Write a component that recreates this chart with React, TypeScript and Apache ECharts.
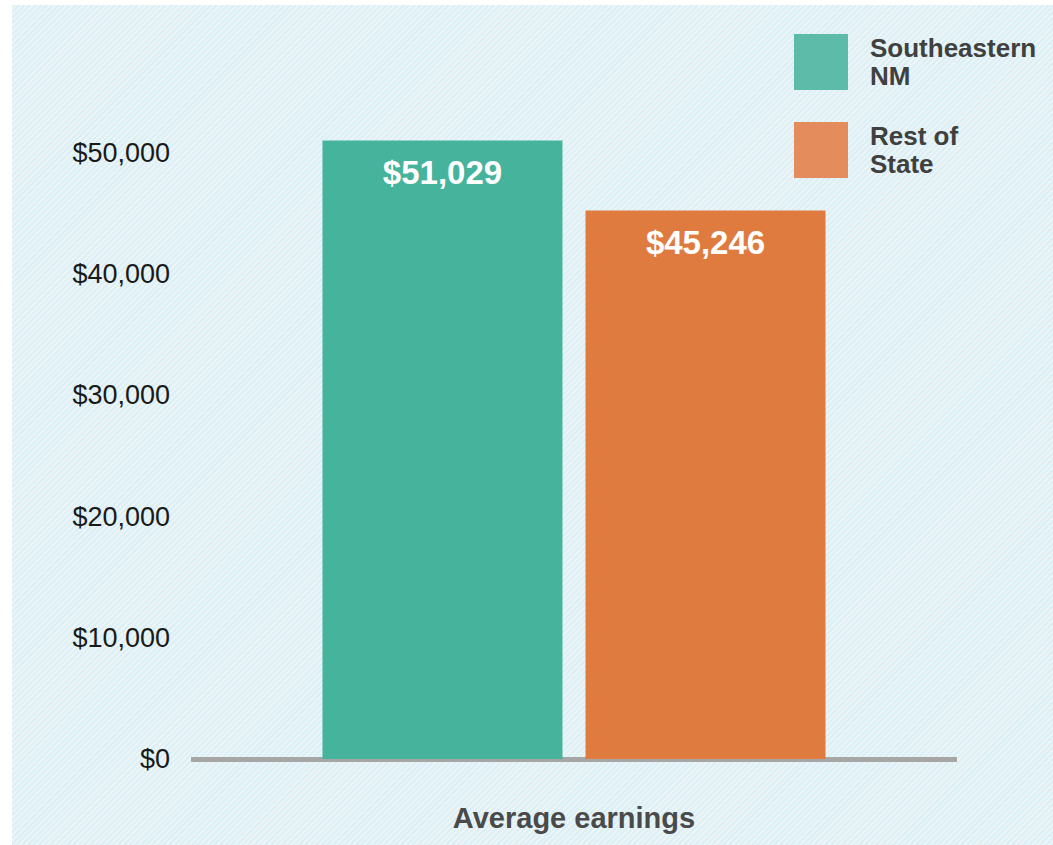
import React, { useEffect, useRef } from "react";
import * as echarts from "echarts";

const categories = ["Average earnings"];
const seriesNames = ["Southeastern\nNM", "Rest of\nState"];
const southeastern = [51029];
const restOfState = [45246];
const yTicks = [0, 10000, 20000, 30000, 40000, 50000];

const sans = "'Liberation Sans', Arial, sans-serif";

export default function App() {
  const ref = useRef<HTMLDivElement>(null);
  useEffect(() => {
    if (!ref.current) return;
    const chart = echarts.init(ref.current, undefined, { renderer: "svg" });
    const fmt = (v: number) => "$" + v.toLocaleString("en-US");
    const barLabel = {
      show: true,
      position: "insideTop",
      distance: 15,
      formatter: (p: any) => fmt(p.value),
      color: "#ffffff",
      fontFamily: sans,
      fontWeight: "bold",
      fontSize: 33,
    };
    chart.setOption({
      animation: false,
      backgroundColor: "transparent",
      grid: { left: 191, right: 96, top: 31.8, bottom: 86, containLabel: false },
      legend: {
        orient: "vertical",
        left: 789,
        top: 29,
        itemWidth: 54,
        itemHeight: 56,
        itemGap: 32,
        icon: "rect",
        selectedMode: false,
        textStyle: {
          fontFamily: sans,
          fontWeight: "bold",
          fontSize: 26,
          color: "#404040",
          lineHeight: 28,
          padding: [0, 0, 0, 17],
        },
        data: [
          { name: seriesNames[0], itemStyle: { color: "#5dbba9" } },
          { name: seriesNames[1], itemStyle: { color: "#e48c5c" } },
        ],
      },
      xAxis: {
        type: "category",
        data: categories,
        axisLine: { lineStyle: { color: "#a6a6a6", width: 5, cap: "butt" } },
        axisTick: { show: false },
        axisLabel: { show: false },
        name: categories[0],
        nameLocation: "middle",
        nameGap: 44,
        nameTextStyle: {
          fontFamily: sans,
          fontWeight: "bold",
          fontSize: 29,
          color: "#4a4a4a",
          verticalAlign: "top",
        },
      },
      yAxis: {
        type: "value",
        min: 0,
        max: 60000,
        interval: 10000,
        splitLine: { show: false },
        axisLine: { show: false },
        axisTick: { show: false },
        axisLabel: {
          margin: 21,
          fontFamily: sans,
          fontSize: 27,
          color: "#1a1a1a",
          formatter: (v: number) => (yTicks.includes(v) ? fmt(v) : ""),
        },
      },
      series: [
        {
          name: seriesNames[0],
          type: "bar",
          data: southeastern,
          barWidth: 240,
          barGap: "9.6%",
          itemStyle: { color: "#46b39d" },
          label: barLabel,
        },
        {
          name: seriesNames[1],
          type: "bar",
          data: restOfState,
          barWidth: 240,
          barGap: "9.6%",
          itemStyle: { color: "#e07b40" },
          label: barLabel,
        },
      ],
    });
    return () => chart.dispose();
  }, []);

  return (
    <div style={{ position: "fixed", left: 0, top: 0, width: 1053, height: 845, background: "#ffffff" }}>
      <div
        style={{
          position: "absolute",
          left: 12,
          top: 5,
          right: 0,
          bottom: 0,
          background:
            "repeating-linear-gradient(135deg, #d8f0f6 0px, #d8f0f6 2px, #eef4f5 2px, #eef4f5 4px)",
        }}
      />
      <div ref={ref} style={{ position: "absolute", left: 0, top: 0, width: 1053, height: 845 }} />
    </div>
  );
}
